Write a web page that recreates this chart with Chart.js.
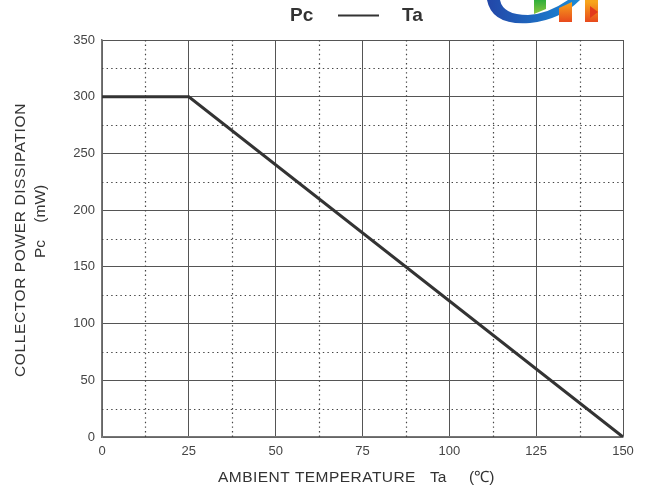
<!DOCTYPE html>
<html>
<head>
<meta charset="utf-8">
<script src="https://cdn.jsdelivr.net/npm/chart.js@4.4.1/dist/chart.umd.min.js"></script>
<style>
  html, body { margin: 0; padding: 0; background: #fff; }
  #pcTa { display: block; }
</style>
</head>
<body>
<canvas id="pcTa" width="646" height="493"></canvas>
<script>
// derating curve: collector power vs ambient temperature
var tempPoints = [0, 25, 150];
var powerPoints = [300, 300, 0];

var xMajorTicks = [0, 25, 50, 75, 100, 125, 150];
var yMajorTicks = [0, 50, 100, 150, 200, 250, 300, 350];
var xMinorTicks = [12.5, 37.5, 62.5, 87.5, 112.5, 137.5];
var yMinorTicks = [25, 75, 125, 175, 225, 275, 325];

var curve = tempPoints.map((t, i) => ({ x: t, y: powerPoints[i] }));

var FONT = '"Liberation Sans", Arial, sans-serif';

// dotted minor grid, drawn through the scales
var minorGrid = {
    id: 'minorGrid',
    beforeDatasetsDraw(chart) {
        var c = chart.ctx, a = chart.chartArea;
        var sx = chart.scales.x, sy = chart.scales.y;
        c.save();
        c.strokeStyle = '#444';
        c.lineWidth = 1.2;
        c.setLineDash([1.4, 3.2]);
        xMinorTicks.forEach(v => {
            var px = Math.round(sx.getPixelForValue(v)) + 0.5;
            c.beginPath(); c.moveTo(px, a.top); c.lineTo(px, a.bottom); c.stroke();
        });
        yMinorTicks.forEach(v => {
            var py = Math.round(sy.getPixelForValue(v)) + 0.5;
            c.beginPath(); c.moveTo(a.left, py); c.lineTo(a.right, py); c.stroke();
        });
        c.restore();
    }
};

// text spread out to a set width with letter spacing, left edge at x
function spreadText(c, txt, x, y, w) {
    c.save();
    c.textAlign = 'left';
    var m = c.measureText(txt).width;
    var gap = Math.max(0, (w - m) / txt.length);
    if ('letterSpacing' in c) {
        c.letterSpacing = gap.toFixed(2) + 'px';
        c.fillText(txt, x, y);
    } else {
        c.translate(x, y);
        c.scale(w / m, 1);
        c.fillText(txt, 0, 0);
    }
    c.restore();
}

// headings, axis captions and the logo corner
var captions = {
    id: 'captions',
    afterDraw(chart) {
        var c = chart.ctx;
        c.save();
        c.fillStyle = '#333';
        c.textBaseline = 'middle';

        // top heading
        c.font = 'bold 19px ' + FONT;
        c.textAlign = 'left';
        c.fillText('Pc', 290, 16);
        c.fillText('Ta', 402, 16);
        c.strokeStyle = '#333';
        c.lineWidth = 2.2;
        c.beginPath(); c.moveTo(338, 15.5); c.lineTo(379, 15.5); c.stroke();

        // x caption
        c.font = '15.5px ' + FONT;
        spreadText(c, 'AMBIENT TEMPERATURE', 218, 478, 198);
        c.fillText('Ta', 430, 478);
        c.fillText('(\u2103)', 469, 478);

        // y caption
        c.save();
        c.translate(21, 377);
        c.rotate(-Math.PI / 2);
        spreadText(c, 'COLLECTOR POWER DISSIPATION', 0, 0, 274);
        c.restore();
        c.save();
        c.translate(41, 258);
        c.rotate(-Math.PI / 2);
        c.textAlign = 'left';
        c.fillText('Pc    (mW)', 0, 0);
        c.restore();

        // logo fragment
        var g = c.createLinearGradient(488, 0, 580, 0);
        g.addColorStop(0, '#2347a8');
        g.addColorStop(1, '#1a8ad6');
        c.fillStyle = g;
        c.beginPath();
        c.moveTo(487, 0);
        c.quadraticCurveTo(492, 26, 530, 23);
        c.quadraticCurveTo(560, 20, 580, 0);
        c.lineTo(568, 0);
        c.quadraticCurveTo(548, 14, 528, 15);
        c.quadraticCurveTo(503, 15, 500, 0);
        c.closePath();
        c.fill();

        var gg = c.createLinearGradient(0, 0, 0, 14);
        gg.addColorStop(0, '#2fae3a');
        gg.addColorStop(1, '#8cc63f');
        c.fillStyle = gg;
        c.beginPath();
        c.moveTo(534, 0); c.lineTo(546, 0); c.lineTo(546, 9); c.lineTo(534, 14);
        c.closePath(); c.fill();

        var go = c.createLinearGradient(0, 2, 0, 22);
        go.addColorStop(0, '#f7a51c');
        go.addColorStop(1, '#e8491d');
        c.fillStyle = go;
        c.beginPath();
        c.moveTo(559, 8); c.lineTo(572, 2); c.lineTo(572, 22); c.lineTo(559, 22);
        c.closePath(); c.fill();
        c.beginPath();
        c.moveTo(585, 0); c.lineTo(598, 0); c.lineTo(598, 22); c.lineTo(585, 22);
        c.closePath(); c.fill();
        c.fillStyle = '#e23a1c';
        c.beginPath();
        c.moveTo(590, 6); c.lineTo(598, 12); c.lineTo(590, 18);
        c.closePath(); c.fill();
        c.restore();
    }
};

var ctx = document.getElementById('pcTa').getContext('2d');
var pcChart = new Chart(ctx, {
    type: 'scatter',
    data: {
        datasets: [{
            data: curve,
            showLine: true,
            borderColor: '#333',
            borderWidth: 3,
            pointRadius: 0,
            tension: 0
        }]
    },
    options: {
        responsive: false,
        animation: false,
        layout: { padding: { left: 0, top: 40, right: 23, bottom: 0 } },
        plugins: {
            legend: { display: false },
            tooltip: { enabled: false }
        },
        scales: {
            x: {
                type: 'linear',
                min: 0,
                max: 150,
                afterBuildTicks: axis => { axis.ticks = xMajorTicks.map(v => ({ value: v })); },
                afterFit: axis => { axis.height = 56; },
                ticks: {
                    padding: 7,
                    color: '#444',
                    font: { family: FONT, size: 13 }
                },
                grid: { color: '#555', lineWidth: 1, drawTicks: false },
                border: { color: '#777', width: 1.5 }
            },
            y: {
                type: 'linear',
                min: 0,
                max: 350,
                afterBuildTicks: axis => { axis.ticks = yMajorTicks.map(v => ({ value: v })); },
                afterFit: axis => { axis.width = 102; },
                ticks: {
                    padding: 7,
                    color: '#444',
                    font: { family: FONT, size: 13 }
                },
                grid: { color: '#555', lineWidth: 1, drawTicks: false },
                border: { color: '#777', width: 1.5 }
            }
        }
    },
    plugins: [minorGrid, captions]
});
</script>
</body>
</html>
